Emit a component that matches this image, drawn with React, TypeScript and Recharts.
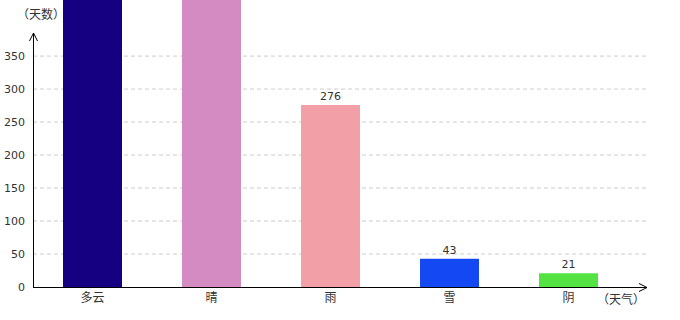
import React from "react";
import { BarChart, Bar, XAxis, YAxis, CartesianGrid, Cell, LabelList } from "recharts";

// 天气类别与天数
const CATEGORIES = ["多云", "晴", "雨", "雪", "阴"];
const DAYS = [520, 500, 276, 43, 21];
const COLORS = ["#140080", "#d48bc2", "#f29fa8", "#1448f2", "#55e343"];
const Y_TICKS = [0, 50, 100, 150, 200, 250, 300, 350];
const Y_MAX = 435;

const data = CATEGORIES.map((name, i) => ({ name, value: DAYS[i] }));

const FONT = "'Noto Sans CJK SC', 'DejaVu Sans', sans-serif";

// 超出顶部的柱子标签不显示
const renderLabel = (props: any) => {
  const { x, y, width, value } = props;
  if (value > Y_MAX) return null;
  return (
    <text
      x={x + width / 2}
      y={y - 5}
      textAnchor="middle"
      fontSize={11}
      fill="#333"
      fontFamily="'DejaVu Sans', sans-serif"
    >
      {value}
    </text>
  );
};

const App: React.FC = () => {
  return (
    <div style={{ position: "absolute", left: 0, top: 0, width: 680, height: 320, background: "#fff" }}>
      <BarChart
        width={680}
        height={320}
        data={data}
        margin={{ top: 0, right: 33, bottom: 0, left: 0 }}
      >
        <CartesianGrid
          vertical={false}
          horizontalValues={Y_TICKS.slice(1)}
          stroke="#cccccc"
          strokeDasharray="4 3"
        />
        <XAxis
          dataKey="name"
          height={33}
          axisLine={false}
          tickLine={false}
          padding={{ left: 0, right: 19 }}
          tick={{ fontSize: 12, fill: "#333", fontFamily: FONT }}
          tickMargin={0}
        />
        <YAxis
          width={33}
          domain={[0, Y_MAX]}
          ticks={Y_TICKS}
          allowDataOverflow
          axisLine={false}
          tickLine={false}
          tick={{ fontSize: 11, fill: "#333", fontFamily: "'DejaVu Sans', sans-serif" }}
          tickMargin={2}
        />
        <Bar dataKey="value" barSize={59} isAnimationActive={false}>
          {data.map((d, i) => (
            <Cell key={d.name} fill={COLORS[i]} />
          ))}
          <LabelList dataKey="value" content={renderLabel} />
        </Bar>
      </BarChart>

      {/* 坐标轴箭头和标题 */}
      <svg
        width={680}
        height={320}
        style={{ position: "absolute", left: 0, top: 0, pointerEvents: "none" }}
      >
        <line x1={33.5} y1={287} x2={33.5} y2={33} stroke="#000" />
        <polyline points="29.5,41 33.5,33 37.5,41" fill="none" stroke="#000" />
        <line x1={33} y1={287.5} x2={647} y2={287.5} stroke="#000" />
        <polyline points="639,283.5 647,287.5 639,291.5" fill="none" stroke="#000" />
        <text x={17} y={19} fontSize={12} fill="#333" fontFamily={FONT}>（天数）</text>
        <text x={597} y={304} fontSize={12} fill="#333" fontFamily={FONT}>（天气）</text>
      </svg>
    </div>
  );
};

export default App;
